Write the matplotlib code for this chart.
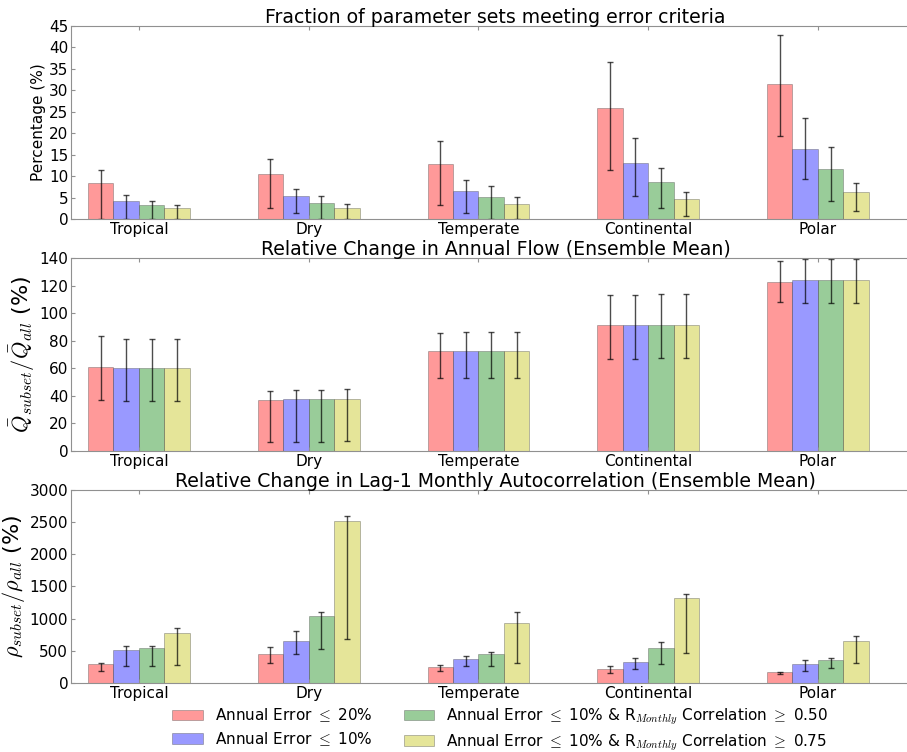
import numpy as np
import matplotlib
matplotlib.use("Agg")
import matplotlib.pyplot as plt

plt.rcParams["font.family"] = "DejaVu Sans"
plt.rcParams["mathtext.fontset"] = "cm"

regions = ["Tropical", "Dry", "Temperate", "Continental", "Polar"]

series_labels = [
    r"Annual Error $\leq$ 20%",
    r"Annual Error $\leq$ 10%",
    r"Annual Error $\leq$ 10% & R$_{Monthly}$ Correlation $\geq$ 0.50",
    r"Annual Error $\leq$ 10% & R$_{Monthly}$ Correlation $\geq$ 0.75",
]

# panel 1: fraction of parameter sets (%), bar value / lower end / upper end of error bar
frac_val = [
    [8.5, 10.4, 12.9, 25.8, 31.5],
    [4.3, 5.3, 6.6, 13.1, 16.4],
    [3.3, 3.8, 5.1, 8.6, 11.7],
    [2.6, 2.6, 3.6, 4.7, 6.4],
]
frac_lo = [
    [0.0, 2.6, 3.2, 11.4, 19.3],
    [0.0, 1.3, 1.4, 5.4, 9.3],
    [0.0, 0.0, 0.0, 2.6, 4.3],
    [0.0, 0.0, 0.0, 0.7, 1.9],
]
frac_hi = [
    [11.5, 13.9, 18.2, 36.7, 43.0],
    [5.7, 7.0, 9.1, 19.0, 23.5],
    [4.3, 5.3, 7.6, 12.0, 16.8],
    [3.3, 3.5, 5.1, 6.3, 8.5],
]

# panel 2: relative change in annual flow (%)
flow_val = [
    [60.8, 36.8, 72.2, 91.5, 122.5],
    [60.1, 37.5, 72.2, 91.5, 124.0],
    [60.1, 37.5, 72.2, 91.5, 124.0],
    [60.1, 37.5, 72.2, 91.5, 124.0],
]
flow_lo = [
    [36.8, 6.5, 52.6, 66.8, 108.0],
    [36.1, 6.5, 52.6, 66.8, 107.3],
    [36.1, 6.5, 52.6, 67.1, 107.3],
    [36.1, 7.0, 52.6, 67.1, 107.5],
]
flow_hi = [
    [83.6, 43.6, 85.7, 112.9, 137.8],
    [81.1, 44.1, 86.5, 113.1, 139.3],
    [81.1, 44.1, 86.5, 113.6, 139.3],
    [81.1, 44.8, 86.2, 113.6, 139.3],
]

# panel 3: relative change in lag-1 monthly autocorrelation (%)
acf_val = [
    [300, 456, 254, 223, 166],
    [508, 653, 378, 326, 300],
    [544, 1047, 446, 544, 363],
    [772, 2513, 938, 1316, 658],
]
acf_lo = [
    [181, 316, 192, 161, 145],
    [264, 451, 264, 218, 192],
    [264, 534, 269, 300, 228],
    [280, 689, 316, 461, 316],
]
acf_hi = [
    [311, 565, 285, 269, 176],
    [570, 813, 420, 394, 363],
    [575, 1109, 487, 642, 389],
    [860, 2591, 1109, 1383, 731],
]

COLORS = ["r", "b", "g", "y"]
WIDTH = 0.15
SPINE = "#909090"


def draw_panel(ax, vals, lo, hi, title, ylabel, ymax, ystep, label_size):
    x = np.arange(len(regions))
    for k in range(4):
        v = np.array(vals[k], dtype=float)
        err = [v - np.array(lo[k]), np.array(hi[k]) - v]
        xs = x + k * WIDTH + WIDTH / 2
        ax.bar(xs, v, WIDTH, color=COLORS[k], alpha=0.4,
               edgecolor="#555555", linewidth=0.7, label=series_labels[k])
        ax.errorbar(xs, v, yerr=err, fmt="none", ecolor="k",
                    elinewidth=1.0, capsize=2.5, capthick=1.0, alpha=0.7)
    ax.set_xlim(-0.1, 4.9)
    ax.set_ylim(0, ymax)
    ax.set_yticks(np.arange(0, ymax + 1, ystep))
    ax.set_xticks(x + 2 * WIDTH)
    ax.set_xticklabels(regions)
    ax.tick_params(direction="in", top=True, right=True, labelsize=11,
                   color=SPINE, pad=2, length=3)
    for s in ax.spines.values():
        s.set_edgecolor(SPINE)
    ax.set_title(title, fontsize=13.6, pad=2)
    ax.set_ylabel(ylabel, fontsize=label_size, labelpad=2)


fig = plt.figure(figsize=(9.07, 7.52), dpi=100)

ax1 = fig.add_axes([0.0783, 0.7088, 0.9358, 0.2566])
ax2 = fig.add_axes([0.0783, 0.4003, 0.9358, 0.2566])
ax3 = fig.add_axes([0.0783, 0.0918, 0.9358, 0.2566])

draw_panel(ax1, frac_val, frac_lo, frac_hi,
           "Fraction of parameter sets meeting error criteria",
           "Percentage (%)", 45, 5, 11)
draw_panel(ax2, flow_val, flow_lo, flow_hi,
           "Relative Change in Annual Flow (Ensemble Mean)",
           r"$\bar{Q}_{subset}/\bar{Q}_{all}$ (%)", 140, 20, 16)
draw_panel(ax3, acf_val, acf_lo, acf_hi,
           "Relative Change in Lag-1 Monthly Autocorrelation (Ensemble Mean)",
           r"$\rho_{subset}/\rho_{all}$ (%)", 3000, 500, 16)

handles, labels = ax3.get_legend_handles_labels()
fig.legend(handles, labels, loc="upper left", bbox_to_anchor=(0.175, 0.079),
           ncol=2, frameon=False, fontsize=11, labelspacing=0.35)

fig.savefig("out.png", dpi=100)
